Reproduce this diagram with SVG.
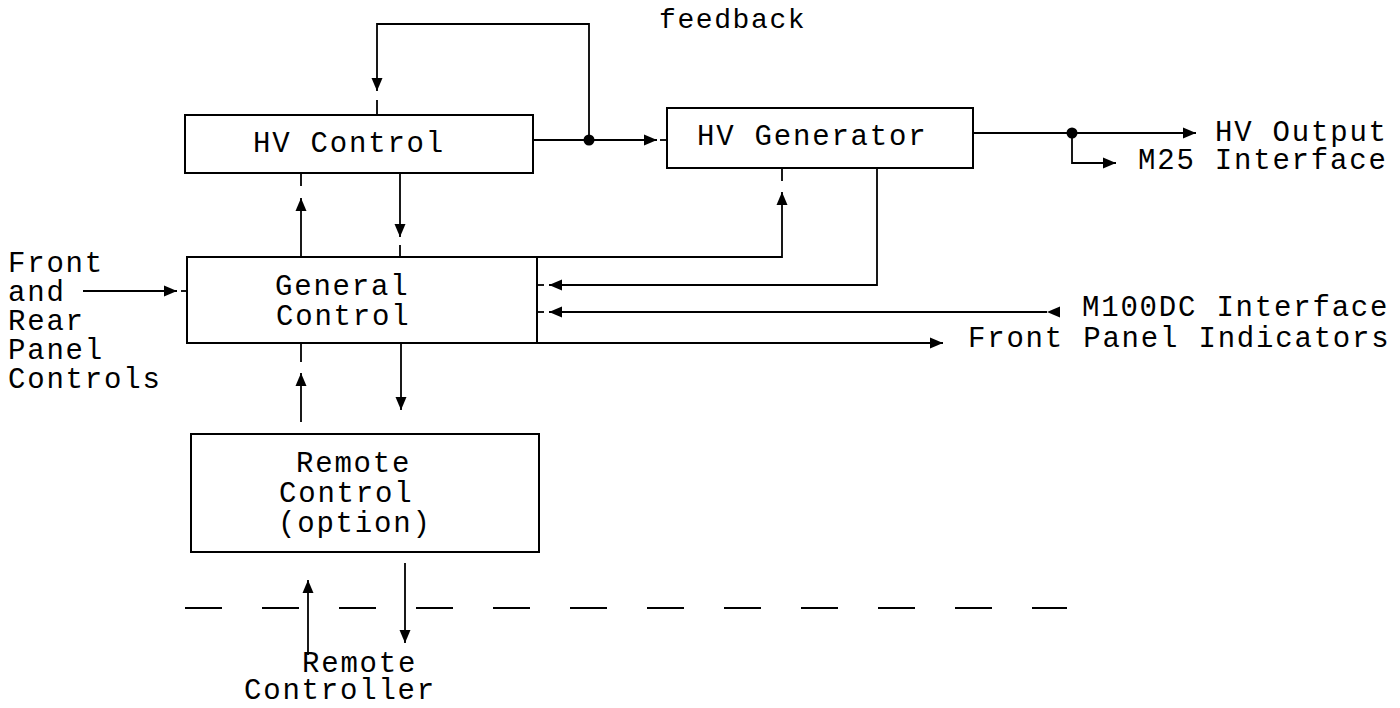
<svg xmlns="http://www.w3.org/2000/svg" width="1400" height="708" viewBox="0 0 1400 708">
<style>
.box{fill:none;stroke:#000;stroke-width:2}
.ln{fill:none;stroke:#000;stroke-width:1.8}
.dash{fill:none;stroke:#000;stroke-width:1.8;stroke-dasharray:37 40}
.t{font-family:"Liberation Mono","Courier New",monospace;font-size:29px;letter-spacing:1.8px;fill:#000}
.fb{font-size:28px;letter-spacing:1.6px}
</style>
<defs>
<marker id="ah" markerUnits="userSpaceOnUse" markerWidth="14" markerHeight="12" refX="13" refY="6" orient="auto">
<path d="M0,0.5 L13,6 L0,11.5 z" fill="#000"/>
</marker>
</defs>
<rect width="1400" height="708" fill="#fff"/>

<g id="connectors">
<path class="ln" d="M589,140 V24 H377 V91" marker-end="url(#ah)"/>
<path class="ln" d="M377,100 V115"/>
<path class="ln" d="M533,140 H657" marker-end="url(#ah)"/>
<path class="ln" d="M660,140 H667"/>
<circle cx="589" cy="140" r="5.5" fill="#000"/>
<path class="ln" d="M972,133 H1196" marker-end="url(#ah)"/>
<circle cx="1072" cy="133" r="5.5" fill="#000"/>
<path class="ln" d="M1072,133 V163 H1116" marker-end="url(#ah)"/>
<path class="ln" d="M301,257 V198" marker-end="url(#ah)"/>
<path class="ln" d="M301,186 V173"/>
<path class="ln" d="M400,173 V237" marker-end="url(#ah)"/>
<path class="ln" d="M400,245 V257"/>
<path class="ln" d="M537,257 H782 V192" marker-end="url(#ah)"/>
<path class="ln" d="M782,181 V167"/>
<path class="ln" d="M877,167 V285 H549" marker-end="url(#ah)"/>
<path class="ln" d="M544,285 H537"/>
<path class="ln" d="M1047,312 H549" marker-start="url(#ah)" marker-end="url(#ah)"/>
<path class="ln" d="M544,312 H537"/>
<path class="ln" d="M537,343 H943" marker-end="url(#ah)"/>
<path class="ln" d="M83,291 H177" marker-end="url(#ah)"/>
<path class="ln" d="M181,291 H187"/>
<path class="ln" d="M301,422 V373" marker-end="url(#ah)"/>
<path class="ln" d="M301,362 V343"/>
<path class="ln" d="M401,343 V410" marker-end="url(#ah)"/>
<path class="ln" d="M308,655 V580" marker-end="url(#ah)"/>
<path class="ln" d="M405,563 V643" marker-end="url(#ah)"/>
<path class="dash" d="M185,608 H1067"/>
</g>

<g id="hv-control">
<rect class="box" x="185" y="115" width="348" height="58"/>
<text class="t" x="253" y="152">HV Control</text>
</g>
<g id="hv-generator">
<rect class="box" x="667" y="108" width="306" height="60"/>
<text class="t" x="697" y="145">HV Generator</text>
</g>
<g id="general-control">
<rect class="box" x="187" y="257" width="350" height="86"/>
<text class="t" x="275" y="295">General</text>
<text class="t" x="276" y="325">Control</text>
</g>
<g id="remote-control">
<rect class="box" x="191" y="434" width="348" height="118"/>
<text class="t" x="296" y="472">Remote</text>
<text class="t" x="279" y="502">Control</text>
<text class="t" x="278" y="532">(option)</text>
</g>
<g id="labels">
<text class="t fb" x="659" y="28">feedback</text>
<text class="t" x="1215" y="141">HV Output</text>
<text class="t" x="1138" y="169">M25 Interface</text>
<text class="t" x="1082" y="316">M100DC Interface</text>
<text class="t" x="968" y="347">Front Panel Indicators</text>
<text class="t" x="8" y="272">Front</text>
<text class="t" x="8" y="301">and</text>
<text class="t" x="8" y="330">Rear</text>
<text class="t" x="8" y="359">Panel</text>
<text class="t" x="8" y="388">Controls</text>
<text class="t" x="302" y="672">Remote</text>
<text class="t" x="244" y="699">Controller</text>
</g>
</svg>
